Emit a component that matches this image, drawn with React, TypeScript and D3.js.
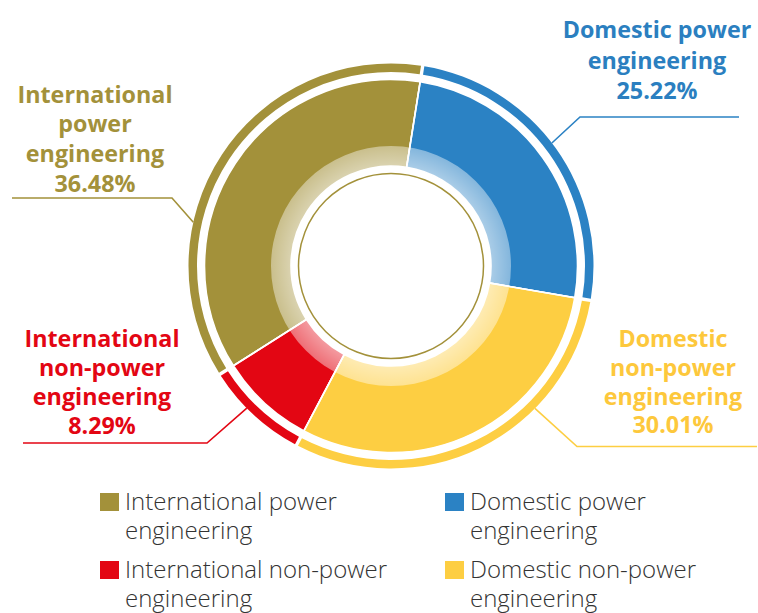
import React from "react";
import * as d3 from "d3";

// ---- data ----
const categories = [
  "International power engineering",
  "Domestic power engineering",
  "International non-power engineering",
  "Domestic non-power engineering",
];
const shares = [36.48, 25.22, 8.29, 30.01];
const labelLines = [
  ["International", "power", "engineering"],
  ["Domestic power", "engineering"],
  ["International", "non-power", "engineering"],
  ["Domestic", "non-power", "engineering"],
];
const legendLines = [
  ["International power", "engineering"],
  ["Domestic power", "engineering"],
  ["International non-power", "engineering"],
  ["Domestic non-power", "engineering"],
];
// clockwise drawing order starting at the top
const drawOrder = [1, 3, 2, 0];

// ---- style / layout ----
const colors = ["#a3913a", "#2b82c4", "#e30613", "#fdce42"];
const textColors = ["#a3913a", "#2b7fc0", "#e30613", "#fdc83c"];
const W = 758;
const H = 613;
const cx = 391;
const cy = 266;
const startDeg = 9;
const R_OUT = 186.5;
const R_BAND = 120;
const R_IN = 100;
const R_LINE = 92.5;
const RING_IN = 194;
const RING_OUT = 202.5;

// label layout: text center x, first baseline, line step, leader start angle (deg), elbow, horizontal end x
const labelLayout = [
  { x: 95, y: 102.7, step: 29.7, ang: 282.5, ex: 172, ey: 198, hx: 12 },
  { x: 657, y: 38, step: 30.5, ang: 52.6, ex: 580, ey: 117, hx: 739 },
  { x: 102, y: 347.3, step: 28.9, ang: 225.4, ex: 207, ey: 443, hx: 23 },
  { x: 673, y: 346.7, step: 28.9, ang: 134.7, ex: 577, ey: 446.5, hx: 757 },
];
const legendPos = [
  { x: 100, y: 493 },
  { x: 445, y: 493 },
  { x: 100, y: 561 },
  { x: 445, y: 561 },
];

export default function App() {
  const items = shares.map((v, i) => ({ i, v }));
  const start = (startDeg * Math.PI) / 180;
  const pie = d3
    .pie<{ i: number; v: number }>()
    .value((d) => d.v)
    .sort((a, b) => drawOrder.indexOf(a.i) - drawOrder.indexOf(b.i))
    .startAngle(start)
    .endAngle(start + 2 * Math.PI);
  const arcs = pie(items);

  const mainArc = d3.arc<any>().innerRadius(R_IN).outerRadius(R_OUT);
  const ringArc = d3
    .arc<any>()
    .innerRadius(RING_IN)
    .outerRadius(RING_OUT)
    .padAngle(0.017)
    .padRadius((RING_IN + RING_OUT) / 2);
  const bandArc = d3
    .arc<any>()
    .innerRadius(R_IN)
    .outerRadius(R_BAND)
    .startAngle(0)
    .endAngle(2 * Math.PI);

  const fontBold = "'Open Sans', 'Noto Sans', sans-serif";

  return (
    <svg
      width={W}
      height={H}
      style={{ position: "absolute", left: 0, top: 0, background: "#fff" }}
    >
      <defs>
        <radialGradient id="band" gradientUnits="userSpaceOnUse" cx={0} cy={0} r={R_BAND}>
          <stop offset={R_IN / R_BAND} stopColor="#fff" stopOpacity={0.6} />
          <stop offset={1} stopColor="#fff" stopOpacity={0.42} />
        </radialGradient>
      </defs>
      <g transform={`translate(${cx},${cy})`}>
        {arcs.map((a) => (
          <path key={"r" + a.data.i} d={ringArc(a) || ""} fill={colors[a.data.i]} />
        ))}
        {arcs.map((a) => (
          <path
            key={"m" + a.data.i}
            d={mainArc(a) || ""}
            fill={colors[a.data.i]}
            stroke="#fff"
            strokeWidth={1.6}
          />
        ))}
        <path d={bandArc({}) || ""} fill="url(#band)" />
        {arcs.map((a) => {
          const x1 = Math.sin(a.startAngle);
          const y1 = -Math.cos(a.startAngle);
          return (
            <line
              key={"s" + a.data.i}
              x1={x1 * (R_IN - 1)}
              y1={y1 * (R_IN - 1)}
              x2={x1 * R_OUT}
              y2={y1 * R_OUT}
              stroke="#fff"
              strokeWidth={1.6}
            />
          );
        })}
        <circle r={R_LINE} fill="#fff" stroke={colors[0]} strokeWidth={1.5} />
      </g>

      {labelLayout.map((L, i) => {
        const a = (L.ang * Math.PI) / 180;
        const sx = cx + Math.sin(a) * RING_OUT;
        const sy = cy - Math.cos(a) * RING_OUT;
        const lines = [...labelLines[i], `${shares[i].toFixed(2)}%`];
        return (
          <g key={"lab" + i}>
            <polyline
              points={`${sx},${sy} ${L.ex},${L.ey} ${L.hx},${L.ey}`}
              fill="none"
              stroke={colors[i]}
              strokeWidth={1.6}
            />
            <text
              textAnchor="middle"
              fontFamily={fontBold}
              fontWeight={700}
              fontSize={23.3}
              fill={textColors[i]}
            >
              {lines.map((t, k) => (
                <tspan key={k} x={L.x} y={L.y + k * L.step}>
                  {t}
                </tspan>
              ))}
            </text>
          </g>
        );
      })}

      {legendPos.map((p, i) => (
        <g key={"leg" + i}>
          <rect x={p.x} y={p.y} width={19} height={18} fill={colors[i]} />
          <text
            fontFamily="'Open Sans', 'Noto Sans', sans-serif"
            fontWeight={300}
            fontSize={24}
            fill="#333"
          >
            {legendLines[i].map((t, k) => (
              <tspan key={k} x={p.x + 25} y={p.y + 17 + k * 29}>
                {t}
              </tspan>
            ))}
          </text>
        </g>
      ))}
    </svg>
  );
}
